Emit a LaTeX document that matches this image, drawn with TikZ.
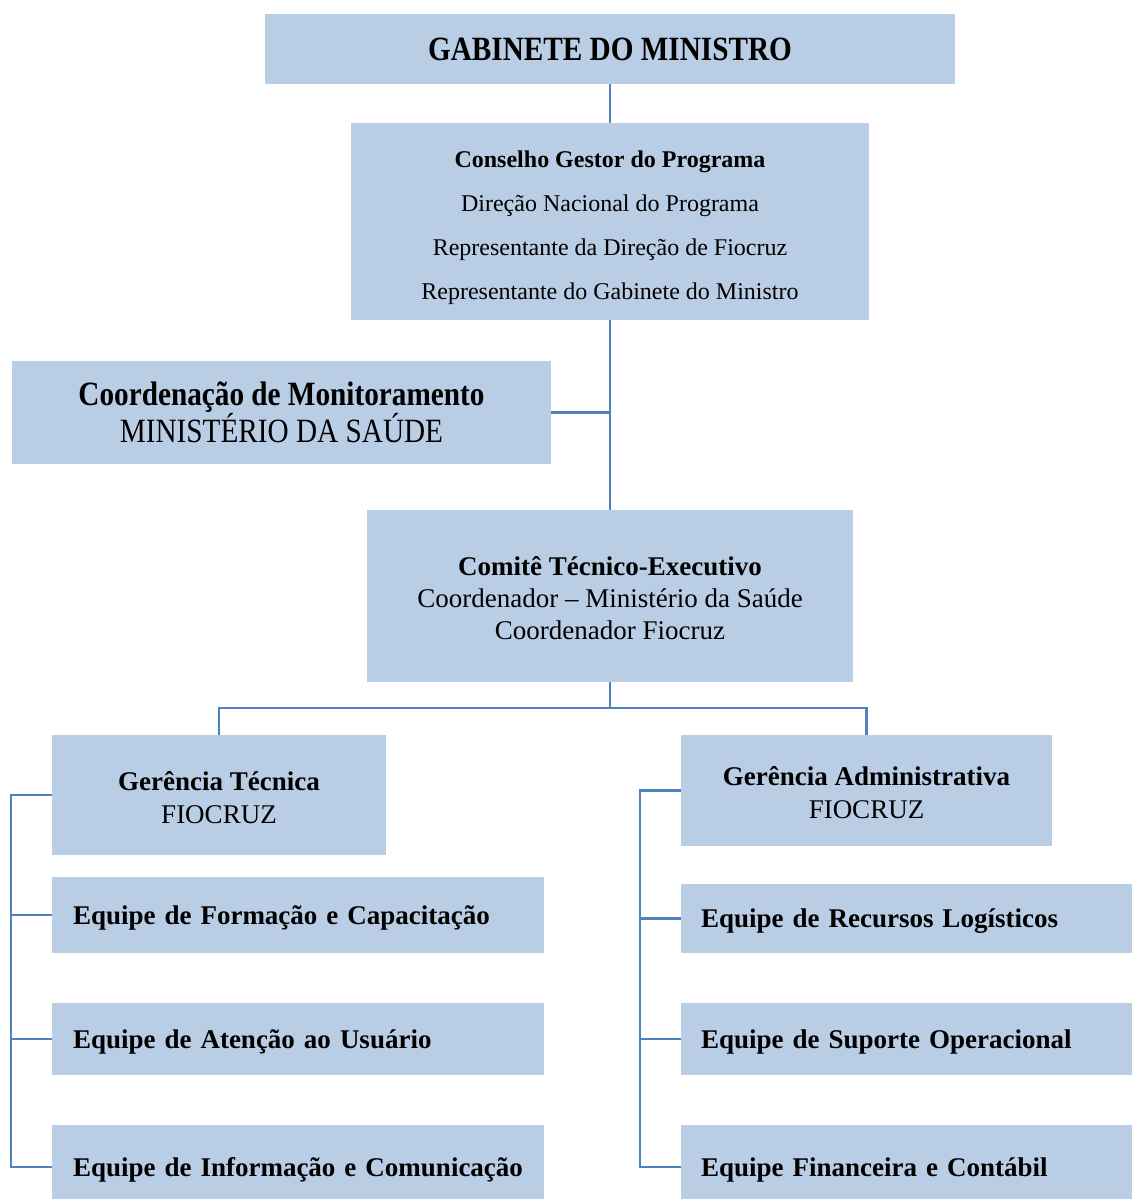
\documentclass[tikz,border=0pt]{standalone}
\usepackage{fontspec}
\setmainfont{Liberation Serif}
\newfontfamily\narrowfont[FakeStretch=0.86]{Liberation Serif}
\usetikzlibrary{calc}
\definecolor{boxblue}{RGB}{185,205,229}
\definecolor{lineblue}{RGB}{79,129,189}
\newcommand{\topstrut}[1]{\rule{0pt}{#1}}

\begin{document}
\begin{tikzpicture}[x=1pt,y=-1pt,
    box/.style={fill=boxblue,inner sep=0pt,outer sep=0pt,align=center},
    team/.style={box,align=left,anchor=west,font=\bfseries\fontsize{27}{32}\selectfont},
    lteam/.style={team,text width=450pt,inner xsep=21pt},
    rteam/.style={team,text width=411pt,inner xsep=20pt},
    conn/.style={lineblue,line width=2.2pt}]
  \useasboundingbox (0,0) rectangle (1132,1199);
  \clip (0,0) rectangle (1132,1199);

  \node[box,minimum width=690pt,minimum height=70pt,
    font=\narrowfont\bfseries\fontsize{34}{40}\selectfont] (gab) at (610,49) {GABINETE DO MINISTRO};
  \node[box,minimum width=518pt,minimum height=197pt,
    font=\fontsize{24}{44}\selectfont] (cons) at (610,221.5)
    {\topstrut{29pt}\textbf{Conselho Gestor do Programa}\\Direção Nacional do Programa\\
     Representante da Direção de Fiocruz\\Representante do Gabinete do Ministro};
  \node[box,minimum width=539pt,minimum height=103pt,
    font=\narrowfont\fontsize{34}{36}\selectfont] (coord) at (281.5,412.5)
    {\textbf{Coordenação de Monitoramento}\\MINISTÉRIO DA SAÚDE};
  \node[box,minimum width=486pt,minimum height=172pt,
    font=\fontsize{27}{32}\selectfont] (comite) at (610,596)
    {\topstrut{24pt}\textbf{Comitê Técnico-Executivo}\\Coordenador – Ministério da Saúde\\Coordenador Fiocruz};

  \node[box,minimum width=334pt,minimum height=120pt,
    font=\fontsize{27}{33}\selectfont] (gtec) at (219,795) {\topstrut{24pt}\textbf{Gerência Técnica}\\FIOCRUZ};
  \node[box,minimum width=371pt,minimum height=111pt,
    font=\fontsize{27}{33}\selectfont] (gadm) at (866.5,790.5) {\topstrut{24pt}\textbf{Gerência Administrativa}\\FIOCRUZ};

  \node[lteam,minimum height=76pt] (eqform) at (52,915) {\topstrut{24pt}Equipe de Formação e Capacitação};
  \node[lteam,minimum height=72pt] (eqaten) at (52,1039) {\topstrut{24pt}Equipe de Atenção ao Usuário};
  \node[lteam,minimum height=84pt] (eqinfo) at (52,1167) {\topstrut{24pt}Equipe de Informação e Comunicação};

  \node[rteam,minimum height=69pt] (eqrec) at (681,918.5) {\topstrut{24pt}Equipe de Recursos Logísticos};
  \node[rteam,minimum height=72pt] (eqsup) at (681,1039) {\topstrut{24pt}Equipe de Suporte Operacional};
  \node[rteam,minimum height=84pt] (eqfin) at (681,1167) {\topstrut{24pt}Equipe Financeira e Contábil};

  %trunk
  \draw[conn] (gab.south) -- (cons.north);
  \draw[conn] (cons.south) -- (comite.north);
  \draw[conn] (coord.east) -- (coord.east -| cons.south);
  \coordinate (split) at ($(comite.south)+(0,26)$);
  \draw[conn] (comite.south) -- (split);
  \draw[conn] (gtec.north) |- (split) -| (gadm.north);

  %left branch
  \draw[conn] (gtec.west) -- ++(-41,0) |- (eqinfo.west);
  \draw[conn] (eqform.west) -- ++(-41,0);
  \draw[conn] (eqaten.west) -- ++(-41,0);

  %right branch
  \draw[conn] (gadm.west) -- ++(-41,0) |- (eqfin.west);
  \draw[conn] (eqrec.west) -- ++(-41,0);
  \draw[conn] (eqsup.west) -- ++(-41,0);
\end{tikzpicture}
\end{document}
